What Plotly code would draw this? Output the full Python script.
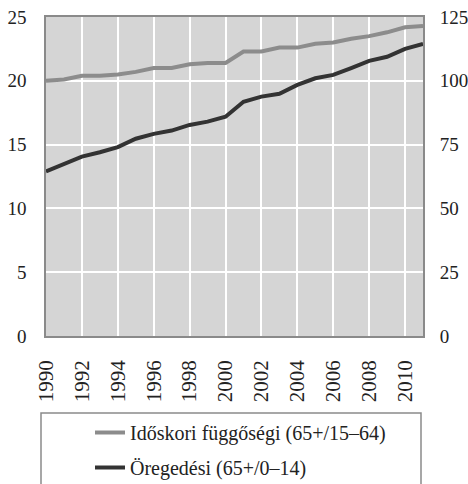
import plotly.graph_objects as go

years = list(range(1990, 2012))
idoskori = [20.0, 20.1, 20.4, 20.4, 20.5, 20.7, 21.0, 21.0, 21.3, 21.4, 21.4,
            22.3, 22.3, 22.6, 22.6, 22.9, 23.0, 23.3, 23.5, 23.8, 24.2, 24.3]
oregedesi = [64.5, 67.5, 70.3, 72.0, 74.0, 77.3, 79.2, 80.5, 82.7, 84.0, 85.9,
             91.8, 93.8, 94.9, 98.4, 101.0, 102.3, 105.0, 107.8, 109.4, 112.5, 114.5]
name1 = "Időskori függőségi (65+/15–64)"
name2 = "Öregedési (65+/0–14)"

W, H = 468, 484
L, R, T, B = 46, 423, 17, 336

def px_x(p):
    return (p - L) / (R - L)

def px_y(p):
    return (B - p) / (B - T)

fig = go.Figure()
fig.add_trace(go.Scatter(x=years, y=idoskori, mode="lines", name=name1,
                         line=dict(color="#8c8c8c", width=4), legendgroup="a"))
fig.add_trace(go.Scatter(x=years, y=oregedesi, mode="lines", name=name2,
                         line=dict(color="#333333", width=4), yaxis="y2", legendgroup="b"))

font = dict(family="Liberation Serif", size=19, color="#222222")
lfont = dict(family="Liberation Serif", size=20, color="#222222")

fig.update_layout(
    width=W, height=H,
    margin=dict(l=L, r=W - R, t=T, b=H - B, pad=0, autoexpand=False),
    paper_bgcolor="white",
    plot_bgcolor="#d5d5d5",
    font=font,
    showlegend=True,
    legend=dict(xref="container", yref="container",
                x=90 / W, y=1 - 413 / H, xanchor="left", yanchor="top",
                bgcolor="rgba(0,0,0,0)", font=lfont, traceorder="grouped",
                tracegroupgap=6, itemwidth=30),
    xaxis=dict(range=[1990, 2011], tick0=1990, dtick=2, tickangle=-90,
               tickfont=dict(family="Liberation Serif", size=21, color="#222222"),
               showgrid=True, gridcolor="white", gridwidth=1.5,
               showline=True, linecolor="#8a8a8a", linewidth=1.5, mirror=True,
               ticks="outside", ticklen=14, tickcolor="rgba(0,0,0,0)",
               zeroline=False, automargin=False),
    yaxis=dict(range=[0, 25], dtick=5, showgrid=True, gridcolor="white", gridwidth=1.5,
               showline=True, linecolor="#8a8a8a", linewidth=1.5, mirror=True,
               ticks="outside", ticklen=14, tickcolor="rgba(0,0,0,0)",
               zeroline=False, automargin=False),
    yaxis2=dict(range=[0, 125], dtick=25, overlaying="y", side="right",
                showgrid=False, zeroline=False, automargin=False,
                ticks="outside", ticklen=12, tickcolor="rgba(0,0,0,0)"),
    shapes=[dict(type="rect", xref="paper", yref="paper",
                 x0=px_x(41), x1=px_x(421), y0=px_y(520), y1=px_y(413),
                 line=dict(color="#8a8a8a", width=1.5), fillcolor="rgba(0,0,0,0)")],
)

fig.write_html("out.html", config={"displayModeBar": False},
               post_script="document.body.style.margin='0';")
